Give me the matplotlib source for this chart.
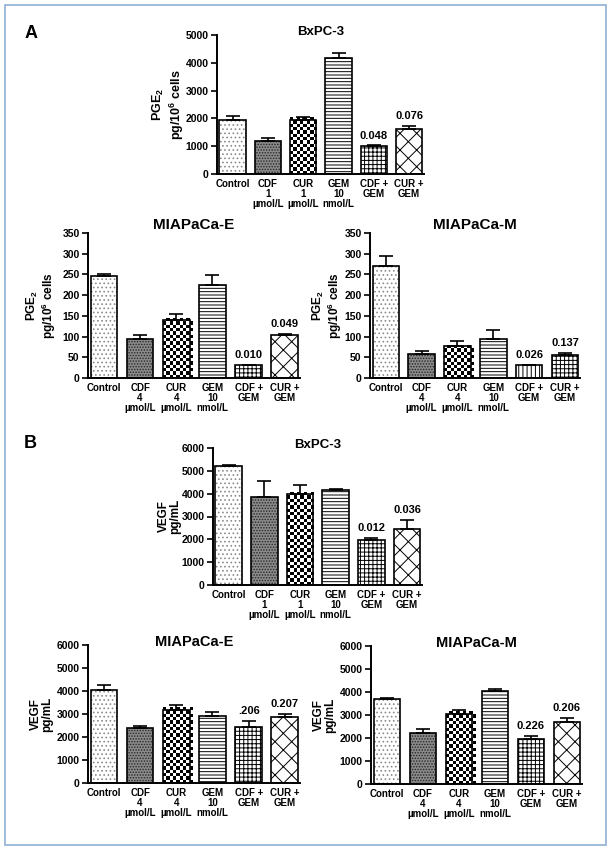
import numpy as np
import matplotlib
matplotlib.use("Agg")
import matplotlib.pyplot as plt
from matplotlib import font_manager
from matplotlib.patches import Rectangle

# ============================== DATA ==============================

LABELS_1UM = ["Control", "CDF\n1\nµmol/L", "CUR\n1\nµmol/L", "GEM\n10\nnmol/L", "CDF +\nGEM", "CUR +\nGEM"]
LABELS_4UM = ["Control", "CDF\n4\nµmol/L", "CUR\n4\nµmol/L", "GEM\n10\nnmol/L", "CDF +\nGEM", "CUR +\nGEM"]

# A: PGE2 (pg/10^6 cells), mean and SEM
PGE2_BXPC3      = [1960, 1190, 1960, 4190, 1020, 1610]
PGE2_BXPC3_SEM  = [140, 95, 80, 150, 10, 110]
PGE2_BXPC3_P    = ["", "", "", "", "0.048", "0.076"]

PGE2_MIAE       = [246, 95, 141, 225, 32, 103]
PGE2_MIAE_SEM   = [5, 8, 13, 23, 0, 4]
PGE2_MIAE_P     = ["", "", "", "", "0.010", "0.049"]

PGE2_MIAM       = [271, 59, 77, 95, 32, 55]
PGE2_MIAM_SEM   = [24, 6, 12, 21, 0, 6]
PGE2_MIAM_P     = ["", "", "", "", "0.026", "0.137"]

# B: VEGF (pg/mL)
VEGF_BXPC3      = [5200, 3860, 3980, 4150, 1970, 2460]
VEGF_BXPC3_SEM  = [70, 700, 400, 70, 90, 380]
VEGF_BXPC3_P    = ["", "", "", "", "0.012", "0.036"]

VEGF_MIAE       = [4060, 2370, 3190, 2900, 2450, 2860]
VEGF_MIAE_SEM   = [180, 90, 190, 190, 230, 150]
VEGF_MIAE_P     = ["", "", "", "", ".206", "0.207"]

VEGF_MIAM       = [3680, 2210, 3030, 4040, 1950, 2700]
VEGF_MIAM_SEM   = [60, 170, 190, 90, 140, 160]
VEGF_MIAM_P     = ["", "", "", "", "0.226", "0.206"]

# ============================== STYLE ==============================

names = {f.name for f in font_manager.fontManager.ttflist}
FONT = "Liberation Sans" if "Liberation Sans" in names else "DejaVu Sans"
NARROW = "Liberation Sans Narrow" if "Liberation Sans Narrow" in names else FONT

plt.rcParams["font.family"] = [FONT, "DejaVu Sans"]
plt.rcParams["font.weight"] = "bold"
plt.rcParams["mathtext.fontset"] = "custom"
plt.rcParams["mathtext.rm"] = f"{FONT}:bold"
plt.rcParams["mathtext.it"] = f"{FONT}:bold"
plt.rcParams["mathtext.bf"] = f"{FONT}:bold"
plt.rcParams["mathtext.default"] = "rm"
plt.rcParams["hatch.linewidth"] = 0.7

# checker is drawn as a clipped image, the rest with hatches
FILLS = {
    "dots":    dict(face="white",   hatch="....",   hc="#8c8c8c"),
    "dark":    dict(face="#8a8a8a", hatch="......", hc="#262626"),
    "checker": dict(face="white",   hatch=None,     hc="black"),
    "hlines":  dict(face="white",   hatch="-----",  hc="black"),
    "grid":    dict(face="white",   hatch="++++",   hc="black"),
    "diag":    dict(face="white",   hatch="xx",     hc="black"),
    "vlines":  dict(face="white",   hatch="||||",   hc="black"),
}
PATTERN_STD = ["dots", "dark", "checker", "hlines", "grid", "diag"]
PATTERN_MIAM = ["dots", "dark", "checker", "hlines", "vlines", "grid"]
CHECK_PX = 3.3
BAR_W = 0.74

W, H = 612, 849
fig = plt.figure(figsize=(W / 100, H / 100), dpi=100)

# light blue frame
fig.patches.append(Rectangle((5 / W, 1 - 845 / H), 601 / W, 840 / H, transform=fig.transFigure,
                             fill=False, edgecolor="#8fb0d4", linewidth=1.2))


def px_axes(left, top, right, bottom):
    return fig.add_axes([left / W, 1 - bottom / H, (right - left) / W, (bottom - top) / H])


def checker_fill(ax, bar):
    x0, w, h = bar.get_x(), bar.get_width(), bar.get_height()
    p0 = ax.transData.transform((x0, 0))
    p1 = ax.transData.transform((x0 + w, h))
    nx = int(np.ceil((p1[0] - p0[0]) / CHECK_PX))
    ny = int(np.ceil((p1[1] - p0[1]) / CHECK_PX))
    dx = w / (p1[0] - p0[0])
    dy = h / (p1[1] - p0[1])
    cells = np.indices((ny, nx)).sum(axis=0) % 2
    ax.imshow(cells, cmap="gray", vmin=0, vmax=1, origin="lower", aspect="auto",
              interpolation="nearest", extent=(x0, x0 + nx * CHECK_PX * dx, 0, ny * CHECK_PX * dy),
              clip_path=bar, zorder=2)


def panel(ax, title, labels, means, sems, pvals, ymax, ystep, ylabel, patterns,
          title_dy=2.5, tick_fs=7.5, xlab_fs=7, title_fs=11, ylab_fs=8.5,
          ylab_pad=0.5, ylab_space=0.95):
    x = np.arange(len(means))
    ax.set_xlim(-0.44, 5.42)
    ax.set_ylim(0, ymax)
    for i, pat in enumerate(patterns):
        f = FILLS[pat]
        b = ax.bar(x[i], means[i], BAR_W, color=f["face"], edgecolor=f["hc"], hatch=f["hatch"],
                   linewidth=0, zorder=2)
        if pat == "checker":
            checker_fill(ax, b.patches[0])
    ax.bar(x, means, BAR_W, fill=False, edgecolor="black", linewidth=1.2, zorder=3)
    ax.errorbar(x, means, yerr=[np.zeros(len(means)), sems], fmt="none", ecolor="black",
                elinewidth=1.2, capsize=5, capthick=1.2, zorder=4)
    for xi, m, s, p in zip(x, means, sems, pvals):
        if p:
            ax.annotate(p, (xi, m + s), xytext=(0, 3.5), textcoords="offset points",
                        ha="center", va="bottom", fontsize=8, fontweight="bold")

    ax.set_xlim(-0.44, 5.42)
    ax.set_ylim(0, ymax)
    ax.set_yticks(np.arange(0, ymax + 1, ystep))
    ax.set_xticks(x)
    ax.set_xticklabels(labels, fontsize=xlab_fs, linespacing=1.0, family=[NARROW, FONT])
    ax.tick_params(axis="x", length=0, pad=3.5)
    ax.tick_params(axis="y", length=4, width=1.2, labelsize=tick_fs, pad=2)
    for s in ("top", "right"):
        ax.spines[s].set_visible(False)
    for s in ("left", "bottom"):
        ax.spines[s].set_linewidth(1.4)
    ax.annotate(title, (0.5, 1.0), xycoords="axes fraction", xytext=(0, title_dy),
                textcoords="offset points", ha="center", va="center",
                fontsize=title_fs, fontweight="bold")
    ax.set_ylabel(ylabel, fontsize=ylab_fs, fontweight="bold", linespacing=ylab_space,
                  labelpad=ylab_pad)


PGE_LABEL = "PGE$_2$\npg/10$^6$ cells"
VEGF_LABEL = "VEGF\npg/mL"

ax = px_axes(217, 35, 424, 174)
panel(ax, "BxPC-3", LABELS_1UM, PGE2_BXPC3, PGE2_BXPC3_SEM, PGE2_BXPC3_P, 5000, 1000,
      PGE_LABEL, PATTERN_STD, title_dy=2.2, title_fs=9.5, ylab_fs=9, ylab_pad=-0.5,
      ylab_space=1.15)

ax = px_axes(88, 233, 300, 378)
panel(ax, "MIAPaCa-E", LABELS_4UM, PGE2_MIAE, PGE2_MIAE_SEM, PGE2_MIAE_P, 350, 50,
      PGE_LABEL, PATTERN_STD, title_dy=5.8, ylab_pad=3.5)

ax = px_axes(370, 233, 580, 378)
panel(ax, "MIAPaCa-M", LABELS_4UM, PGE2_MIAM, PGE2_MIAM_SEM, PGE2_MIAM_P, 350, 50,
      PGE_LABEL, PATTERN_MIAM, title_dy=5.8, ylab_pad=0.5)

ax = px_axes(213, 448, 422, 585)
panel(ax, "BxPC-3", LABELS_1UM, VEGF_BXPC3, VEGF_BXPC3_SEM, VEGF_BXPC3_P, 6000, 1000,
      VEGF_LABEL, PATTERN_STD, title_dy=2.5, title_fs=9.5, ylab_pad=0.5)

ax = px_axes(88, 645, 300, 783)
panel(ax, "MIAPaCa-E", LABELS_4UM, VEGF_MIAE, VEGF_MIAE_SEM, VEGF_MIAE_P, 6000, 1000,
      VEGF_LABEL, PATTERN_STD, title_dy=2.5, title_fs=10.5, ylab_pad=2.5)

ax = px_axes(371, 646, 582, 784)
panel(ax, "MIAPaCa-M", LABELS_4UM, VEGF_MIAM, VEGF_MIAM_SEM, VEGF_MIAM_P, 6000, 1000,
      VEGF_LABEL, PATTERN_STD, title_dy=2.5, title_fs=10.5, ylab_pad=2.5)

fig.text(31 / W, 1 - 33 / H, "A", fontsize=13, fontweight="bold", ha="center", va="center")
fig.text(30 / W, 1 - 443 / H, "B", fontsize=13, fontweight="bold", ha="center", va="center")

fig.savefig("out.png", dpi=100)
